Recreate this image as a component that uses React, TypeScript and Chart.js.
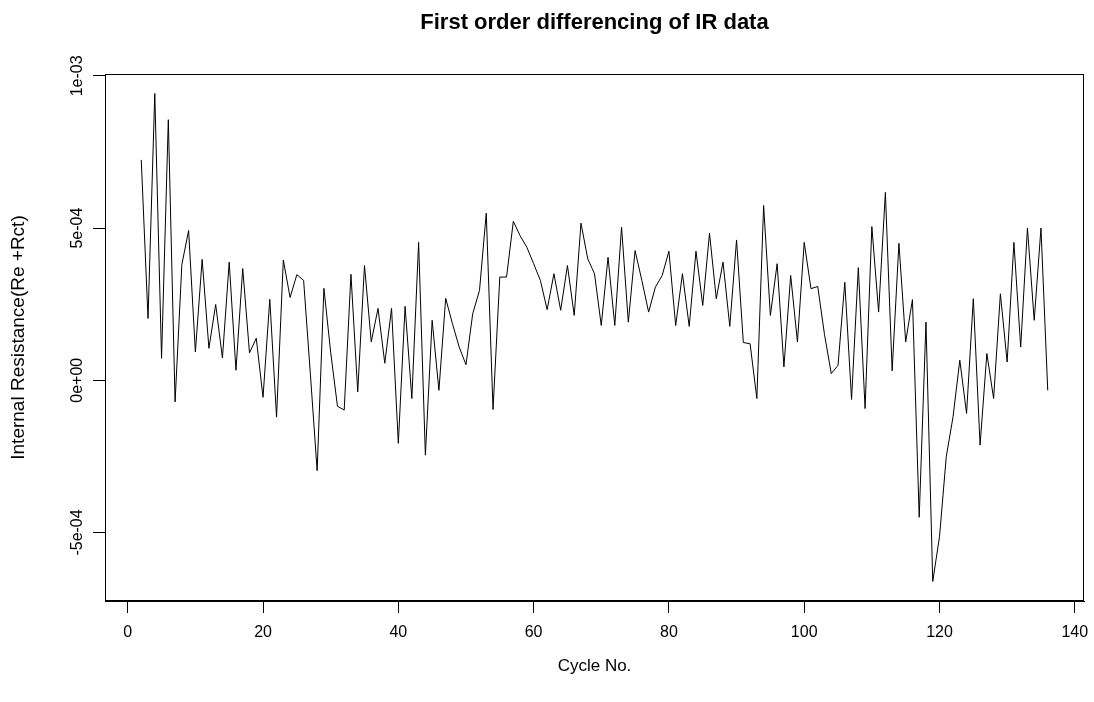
import React, { useEffect, useRef } from 'react';
import { Chart, registerables } from 'chart.js';

Chart.register(...registerables);

const chartTitle = 'First order differencing of IR data';
const xAxisTitle = 'Cycle No.';
const yAxisTitle = 'Internal Resistance(Re +Rct)';

const cycles = [
  2, 3, 4, 5, 6, 7, 8, 9, 10, 11, 12, 13, 14, 15, 16, 17, 18, 19, 20, 21,
  22, 23, 24, 25, 26, 27, 28, 29, 30, 31, 32, 33, 34, 35, 36, 37, 38, 39, 40, 41,
  42, 43, 44, 45, 46, 47, 48, 49, 50, 51, 52, 53, 54, 55, 56, 57, 58, 59, 60, 61,
  62, 63, 64, 65, 66, 67, 68, 69, 70, 71, 72, 73, 74, 75, 76, 77, 78, 79, 80, 81,
  82, 83, 84, 85, 86, 87, 88, 89, 90, 91, 92, 93, 94, 95, 96, 97, 98, 99, 100, 101,
  102, 103, 104, 105, 106, 107, 108, 109, 110, 111, 112, 113, 114, 115, 116, 117, 118, 119, 120, 121,
  122, 123, 124, 125, 126, 127, 128, 129, 130, 131, 132, 133, 134, 135, 136,
];

const irDiff = [
  7.24e-4, 2.03e-4, 9.42e-4, 0.72e-4, 8.56e-4, -0.71e-4, 3.8e-4, 4.92e-4, 0.93e-4, 3.97e-4,
  1.05e-4, 2.49e-4, 0.73e-4, 3.88e-4, 0.33e-4, 3.67e-4, 0.9e-4, 1.38e-4, -0.56e-4, 2.66e-4,
  -1.21e-4, 3.95e-4, 2.72e-4, 3.47e-4, 3.28e-4, 0.2e-4, -2.97e-4, 3.02e-4, 0.92e-4, -0.85e-4,
  -0.98e-4, 3.48e-4, -0.38e-4, 3.77e-4, 1.26e-4, 2.36e-4, 0.56e-4, 2.36e-4, -2.07e-4, 2.43e-4,
  -0.6e-4, 4.53e-4, -2.46e-4, 1.97e-4, -0.33e-4, 2.69e-4, 1.86e-4, 1.09e-4, 0.51e-4, 2.19e-4,
  2.95e-4, 5.49e-4, -0.96e-4, 3.39e-4, 3.39e-4, 5.22e-4, 4.75e-4, 4.37e-4, 3.83e-4, 3.28e-4,
  2.32e-4, 3.5e-4, 2.3e-4, 3.77e-4, 2.13e-4, 5.16e-4, 3.99e-4, 3.5e-4, 1.8e-4, 4.04e-4,
  1.8e-4, 5.03e-4, 1.91e-4, 4.26e-4, 3.28e-4, 2.24e-4, 3.06e-4, 3.44e-4, 4.24e-4, 1.8e-4,
  3.5e-4, 1.77e-4, 4.24e-4, 2.46e-4, 4.83e-4, 2.68e-4, 3.88e-4, 1.77e-4, 4.61e-4, 1.24e-4,
  1.2e-4, -0.6e-4, 5.74e-4, 2.13e-4, 3.83e-4, 0.44e-4, 3.44e-4, 1.26e-4, 4.53e-4, 3.01e-4,
  3.08e-4, 1.5e-4, 0.22e-4, 0.49e-4, 3.22e-4, -0.63e-4, 3.7e-4, -0.93e-4, 5.05e-4, 2.24e-4,
  6.17e-4, 0.31e-4, 4.5e-4, 1.26e-4, 2.65e-4, -4.5e-4, 1.91e-4, -6.61e-4, -5.14e-4, -2.51e-4,
  -1.2e-4, 0.66e-4, -1.09e-4, 2.68e-4, -2.13e-4, 0.88e-4, -0.6e-4, 2.84e-4, 0.6e-4, 4.53e-4,
  1.09e-4, 5.0e-4, 1.97e-4, 5.0e-4, -0.33e-4,
];

const xTickValues = [0, 20, 40, 60, 80, 100, 120, 140];
const xTickLabels = ['0', '20', '40', '60', '80', '100', '120', '140'];
const yTickValues = [-5e-4, 0, 5e-4, 1e-3];
const yTickLabels = ['-5e-04', '0e+00', '5e-04', '1e-03'];

const FONT = "'Liberation Sans', Arial, sans-serif";

const boxPlugin = {
  id: 'rBox',
  afterDraw(chart: any) {
    const { ctx, chartArea } = chart;
    ctx.save();
    ctx.strokeStyle = '#000';
    ctx.lineWidth = 1;
    const l = Math.round(chartArea.left) + 0.5;
    const t = Math.round(chartArea.top) + 0.5;
    const r = Math.round(chartArea.right) - 0.5;
    const b = Math.round(chartArea.bottom) - 0.5;
    ctx.strokeRect(l, t, r - l, b - t);
    ctx.restore();
  },
};

export default function App() {
  const canvasRef = useRef<HTMLCanvasElement | null>(null);

  useEffect(() => {
    document.body.style.margin = '0';
    const canvas = canvasRef.current;
    if (!canvas) return;

    const points = cycles.map((c, i) => ({ x: c, y: irDiff[i] }));
    const xMin = Math.min(...cycles);
    const xMax = Math.max(...cycles);
    const yMin = Math.min(...irDiff);
    const yMax = Math.max(...irDiff);
    const xPad = (xMax - xMin) * 0.04;
    const yPad = (yMax - yMin) * 0.04;

    const chart = new Chart(canvas, {
      type: 'line',
      data: {
        datasets: [
          {
            data: points,
            borderColor: '#000',
            borderWidth: 1,
            pointRadius: 0,
            tension: 0,
            fill: false,
          },
        ],
      },
      plugins: [boxPlugin],
      options: {
        animation: false,
        responsive: false,
        devicePixelRatio: 1,
        layout: { padding: { left: 0, right: 10, top: 0, bottom: 0 } },
        plugins: {
          legend: { display: false },
          tooltip: { enabled: false },
          title: {
            display: true,
            fullSize: false,
            text: chartTitle,
            color: '#000',
            font: { family: FONT, size: 22, weight: 'bold' },
            padding: { top: 10, bottom: 37.6 },
          },
        },
        scales: {
          x: {
            type: 'linear',
            min: xMin - xPad,
            max: xMax + xPad,
            afterBuildTicks: (scale: any) => {
              scale.ticks = xTickValues.map((v) => ({ value: v }));
            },
            afterFit: (scale: any) => {
              scale.height = 101;
              scale.paddingLeft = 0;
              scale.paddingRight = 0;
            },
            ticks: {
              color: '#000',
              font: { family: FONT, size: 16 },
              padding: 10,
              maxRotation: 0,
              minRotation: 0,
              autoSkip: false,
              callback: (_v: any, i: number) => xTickLabels[i],
            },
            grid: { drawOnChartArea: false, drawTicks: true, tickLength: 12, color: '#000', lineWidth: 1 },
            border: { display: true, color: '#000', width: 1 },
            title: {
              display: true,
              text: xAxisTitle,
              color: '#000',
              font: { family: FONT, size: 17 },
              padding: { top: 0, bottom: 25 },
            },
          },
          y: {
            type: 'linear',
            min: yMin - yPad,
            max: yMax + yPad,
            afterBuildTicks: (scale: any) => {
              scale.ticks = yTickValues.map((v) => ({ value: v }));
            },
            afterFit: (scale: any) => {
              scale.width = 105;
              scale.paddingTop = 0;
              scale.paddingBottom = 0;
            },
            ticks: {
              color: '#000',
              font: { family: FONT, size: 16 },
              minRotation: 90,
              maxRotation: 90,
              crossAlign: 'center',
              padding: -8,
              autoSkip: false,
              callback: (_v: any, i: number) => yTickLabels[i],
            },
            grid: { drawOnChartArea: false, drawTicks: true, tickLength: 12, color: '#000', lineWidth: 1 },
            border: { display: true, color: '#000', width: 1 },
            title: {
              display: true,
              text: yAxisTitle,
              color: '#000',
              font: { family: FONT, size: 19 },
              padding: { top: 7, bottom: 0 },
            },
          },
        },
      } as any,
    });

    return () => {
      chart.destroy();
    };
  }, []);

  return (
    <div style={{ position: 'absolute', left: 0, top: 0, width: 1094, height: 702, background: '#fff' }}>
      <canvas ref={canvasRef} width={1094} height={702} />
    </div>
  );
}
